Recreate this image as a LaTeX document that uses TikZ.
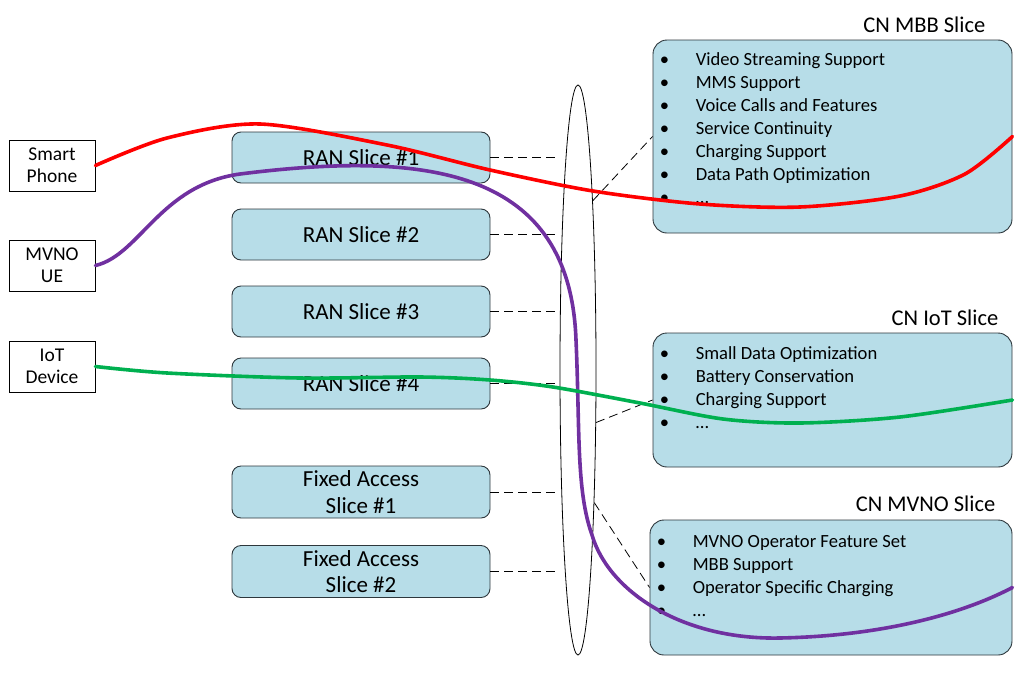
\documentclass[tikz,border=0pt]{standalone}
\usepackage{fontspec}
\setmainfont{Carlito}
\usetikzlibrary{shapes.geometric,positioning}
\definecolor{sliceblue}{RGB}{183,221,232}
\definecolor{sliceedge}{RGB}{45,55,60}
\definecolor{pathred}{RGB}{255,0,0}
\definecolor{pathpurple}{RGB}{112,48,160}
\definecolor{pathgreen}{RGB}{0,176,80}

\begin{document}
\begin{tikzpicture}[x=1pt,y=-1pt,
  devbox/.style={draw,fill=white,line width=0.9pt,minimum width=86pt,minimum height=51pt,
    inner sep=0pt,align=center,font=\fontsize{19.5}{22}\selectfont},
  slicebox/.style={draw=sliceedge,fill=sliceblue,rounded corners=9pt,line width=0.9pt,
    minimum width=258pt,minimum height=51pt,inner sep=0pt,align=center,
    font=\fontsize{23}{26.5}\selectfont},
  cnbox/.style={draw=sliceedge,fill=sliceblue,rounded corners=14pt,line width=0.9pt,inner sep=0pt},
  cnlist/.style={inner sep=0pt,font=\fontsize{18.6}{23}\selectfont},
  cntitle/.style={inner sep=0pt,font=\fontsize{22.5}{26}\selectfont},
  link/.style={dash pattern=on 9pt off 5pt,line width=0.8pt},
  flow/.style={line width=3.6pt,line cap=round}]
  \useasboundingbox (0,0) rectangle (1024,672);

  % devices
  \node[devbox] (phone) at (52,165.5) {Smart\\Phone};
  \node[devbox] (mvnoue) at (52,265.5) {MVNO\\UE};
  \node[devbox] (iotdev) at (52,366.5) {IoT\\Device};

  % access slices
  \node[slicebox] (ran1) at (361,157.5) {RAN Slice \#1};
  \node[slicebox] (ran2) at (361,234.5) {RAN Slice \#2};
  \node[slicebox] (ran3) at (361,311.5) {RAN Slice \#3};
  \node[slicebox] (ran4) at (361,383.5) {RAN Slice \#4};
  \node[slicebox,minimum height=52pt] (fix1) at (361,492) {Fixed Access\\Slice \#1};
  \node[slicebox,minimum height=52pt] (fix2) at (361,571.5) {Fixed Access\\Slice \#2};

  % transport
  \node[ellipse,draw,line width=0.8pt,minimum width=36pt,minimum height=570pt,inner sep=0pt] (ring) at (578,370) {};
  \foreach \s in {ran1,ran2,ran3,ran4,fix1,fix2}
    \draw[link] (\s.east) -- (\s.east -| ring.west);

  % core slices
  \node[cnbox,minimum width=359pt,minimum height=193pt] (mbb) at (832.5,136.5) {};
  \node[cnbox,minimum width=359pt,minimum height=134pt] (iot) at (832.5,400) {};
  \node[cnbox,minimum width=362pt,minimum height=135pt] (mvno) at (831,587.5) {};

  \node[cntitle,above left=7pt and 27pt of mbb.north east] (mbbtitle) {CN MBB Slice};
  \node[cntitle,above left=7pt and 14pt of iot.north east] (iottitle) {CN IoT Slice};
  \node[cntitle,above left=8pt and 17pt of mvno.north east] (mvnotitle) {CN MVNO Slice};

  \node[cnlist,below right=10pt and 7pt of mbb.north west] (mbblist) {%
    \begin{tabular}{@{}p{36pt}@{}l@{}}
      \textbullet & Video Streaming Support\\
      \textbullet & MMS Support\\
      \textbullet & Voice Calls and Features\\
      \textbullet & Service Continuity\\
      \textbullet & Charging Support\\
      \textbullet & Data Path Optimization\\
      \textbullet & …
    \end{tabular}};
  \node[cnlist,below right=11pt and 7pt of iot.north west] (iotlist) {%
    \begin{tabular}{@{}p{36pt}@{}l@{}}
      \textbullet & Small Data Optimization\\
      \textbullet & Battery Conservation\\
      \textbullet & Charging Support\\
      \textbullet & …
    \end{tabular}};
  \node[cnlist,below right=12pt and 7pt of mvno.north west] (mvnolist) {%
    \begin{tabular}{@{}p{36pt}@{}l@{}}
      \textbullet & MVNO Operator Feature Set\\
      \textbullet & MBB Support\\
      \textbullet & Operator Specific Charging\\
      \textbullet & …
    \end{tabular}};

  \draw[link] (ring.85) -- (mbb.west);
  \draw[link] (ring.-71) -- (iot.west);
  \draw[link] (ring.-83) -- (mvno.west);

  % traffic paths
  \draw[flow,pathred] plot[smooth] coordinates {(phone.east) (167,138) (260,124) (387,145)
    (490,170) (593,191) (700,204) (800,207) (900,196) (965,174) (mbb.east)};
  \draw[flow,pathpurple] (mvnoue.east) .. controls (140,255) and (160,185) .. (240,174)
    .. controls (430,150) and (570,170) .. (576,340)
    .. controls (580,430) and (576,490) .. (592,535)
    .. controls (608,590) and (680,640) .. (780,638)
    .. controls (880,636) and (960,615) .. (mvno.east);
  \draw[flow,pathgreen] plot[smooth] coordinates {(iotdev.east) (167,373) (300,378) (420,377)
    (490,380) (553,387) (640,403) (723,419) (800,423) (900,417) (iot.east)};
\end{tikzpicture}
\end{document}
